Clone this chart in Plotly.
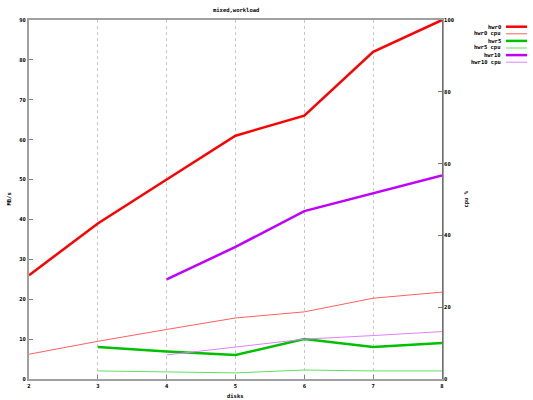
import plotly.graph_objects as go

# disks on the x axis
disks = [2, 3, 4, 5, 6, 7, 8]

# MB/s throughput (left axis)
hwr0 = [26, 39, 50, 61, 66, 82, 90]
hwr5 = [None, 8, 6.9, 6, 10, 8, 9]
hwr10 = [None, None, 25, 33.1, 42.1, 46.5, 51]

# cpu % (right axis)
hwr0_cpu = [6.9, 10.5, 13.8, 17, 18.7, 22.5, 24.2]
hwr5_cpu = [None, 2.25, 2.0, 1.7, 2.5, 2.25, 2.25]
hwr10_cpu = [None, None, 6.7, 8.9, 11.1, 12.1, 13.2]

series = [
    ("hwr0", hwr0, "y", "#ff0000", 2.5),
    ("hwr0 cpu", hwr0_cpu, "y2", "#ff6060", 1),
    ("hwr5", hwr5, "y", "#00c000", 2.5),
    ("hwr5 cpu", hwr5_cpu, "y2", "#60e060", 1),
    ("hwr10", hwr10, "y", "#c000ff", 2.5),
    ("hwr10 cpu", hwr10_cpu, "y2", "#e080ff", 1),
]

FONT = dict(family="DejaVu Sans Mono", size=5.5, color="#000000", weight="bold")

# plot box in pixels: left 29, right 442, top 20, bottom 379
PW, PH = 413, 359

fig = go.Figure()
for name, vals, axis, color, width in series:
    fig.add_trace(go.Scatter(x=disks, y=vals, yaxis=axis, name=name, mode="lines",
                             line=dict(color=color, width=width), showlegend=False))

# gnuplot style legend at the top right
legend_top = 26.7
for i, (name, vals, axis, color, width) in enumerate(series):
    ypos = 1 - (legend_top - 20 + i * 7.1) / PH
    fig.add_annotation(text=name, xref="paper", yref="paper", x=(503 - 29) / PW, y=ypos,
                       xanchor="right", yanchor="middle", showarrow=False, font=FONT)
    fig.add_shape(type="line", xref="paper", yref="paper",
                  x0=(506 - 29) / PW, x1=(527 - 29) / PW, y0=ypos, y1=ypos,
                  line=dict(color=color, width=width))

fig.add_annotation(text="mixed,workload", xref="paper", yref="paper", x=0.5, y=1 + (20 - 10) / PH,
                   yanchor="middle", showarrow=False, font=FONT)
fig.add_annotation(text="disks", xref="paper", yref="paper", x=0.5, y=-(396 - 379) / PH,
                   yanchor="middle", showarrow=False, font=FONT)
fig.add_annotation(text="MB/s", xref="paper", yref="paper", x=-(29 - 8) / PW, y=0.5,
                   xanchor="center", textangle=-90, showarrow=False, font=FONT)
fig.add_annotation(text="cpu %", xref="paper", yref="paper", x=1 + (466 - 442) / PW, y=0.5,
                   xanchor="center", textangle=-90, showarrow=False, font=FONT)

fig.update_layout(
    width=533, height=400,
    margin=dict(l=29, r=91, t=20, b=21),
    paper_bgcolor="white", plot_bgcolor="white",
    font=FONT,
    xaxis=dict(range=[2, 8], dtick=1, showgrid=True, gridcolor="#c8c8c8", griddash="dot",
               gridwidth=1, ticks="inside", ticklen=4, tickcolor="#808080",
               showline=True, linecolor="#a0a0a0", linewidth=2, mirror=True,
               zeroline=False, tickfont=FONT),
    yaxis=dict(range=[0, 90], dtick=10, showgrid=False, ticks="inside", ticklen=4,
               tickcolor="#808080", showline=True, linecolor="#a0a0a0", linewidth=2,
               mirror=True, zeroline=False, tickfont=FONT),
    yaxis2=dict(range=[0, 100], dtick=20, overlaying="y", side="right", showgrid=False,
                ticks="inside", ticklen=4, tickcolor="#808080", showline=True,
                linecolor="#707070", linewidth=1, zeroline=False, tickfont=FONT),
)

fig.write_html("out.html", config={"displayModeBar": False},
               post_script="document.body.style.margin='0';")
